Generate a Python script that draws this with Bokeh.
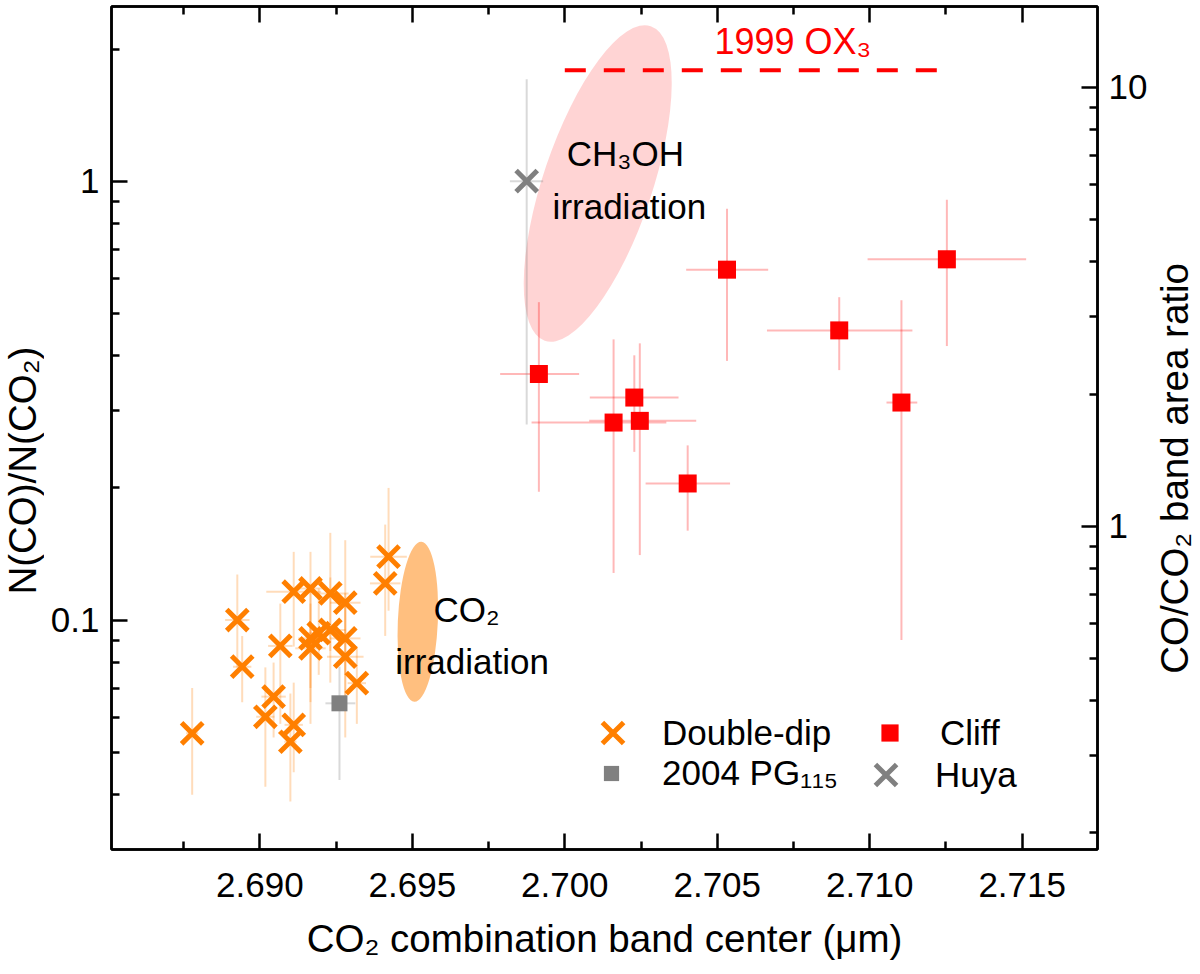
import math
import numpy as np
from bokeh.plotting import figure
from bokeh.layouts import row
from bokeh.models import (Range1d, LogScale, LogAxis, LinearAxis, FixedTicker,
                          PrintfTickFormatter, CustomJSTickFormatter, Legend,
                          LegendItem, Label)
from bokeh.embed import file_html
from bokeh.resources import INLINE

FONT = "Liberation Sans"

# ---------------- data ----------------
# Double-dip objects
dd_x = [2.68778, 2.68926, 2.68942, 2.69067, 2.69045, 2.69018, 2.69111, 2.69100,
        2.69111, 2.69166, 2.69231, 2.69280, 2.69166, 2.69193, 2.69231, 2.69280,
        2.69166, 2.69280, 2.69318, 2.69422, 2.69411]
dd_y = [0.0552, 0.1000, 0.0783, 0.0873, 0.0669, 0.0602, 0.0577, 0.0528,
        0.1160, 0.1180, 0.1150, 0.1095, 0.0908, 0.0933, 0.0949, 0.0908,
        0.0862, 0.0825, 0.0718, 0.1394, 0.1212]
dd_ylo = [0.040, 0.078, 0.065, 0.058, 0.054, 0.0417, 0.045, 0.0386,
          0.087, 0.070, 0.085, 0.075, 0.065, 0.075, 0.072, 0.062,
          0.058, 0.054, 0.058, 0.105, 0.092]
dd_yhi = [0.070, 0.127, 0.092, 0.109, 0.080, 0.078, 0.072, 0.068,
          0.143, 0.143, 0.158, 0.152, 0.118, 0.118, 0.125, 0.115,
          0.109, 0.109, 0.087, 0.200, 0.165]
dd_xerr = [0.0002, 0.0004, 0.0003, 0.0004, 0.0004, 0.0003, 0.0003, 0.0002,
           0.0009, 0.0005, 0.0006, 0.0005, 0.0004, 0.0004, 0.0005, 0.0005,
           0.0005, 0.0006, 0.0003, 0.0006, 0.0005]

# Cliff objects
cliff_x = [2.69915, 2.70228, 2.70160, 2.70246, 2.70403, 2.70532, 2.70900, 2.71104, 2.71253]
cliff_y = [0.3636, 0.3213, 0.2818, 0.2843, 0.2047, 0.6285, 0.4570, 0.3130, 0.6634]
cliff_ylo = [0.196, 0.2416, 0.128, 0.1406, 0.1598, 0.3894, 0.371, 0.090, 0.421]
cliff_yhi = [0.530, 0.401, 0.436, 0.427, 0.250, 0.865, 0.544, 0.535, 0.907]
cliff_xlo = [2.69788, 2.70082, 2.69891, 2.70080, 2.70265, 2.70398, 2.70663, 2.71055, 2.70993]
cliff_xhi = [2.70047, 2.70373, 2.70333, 2.70431, 2.70542, 2.70667, 2.71140, 2.71156, 2.71513]

# 2004 PG115
pg_x = [2.69261]
pg_y = [0.0646]
pg_ylo = [0.0432]
pg_yhi = [0.0783]
pg_xlo = [2.69215]
pg_xhi = [2.69313]

# Huya
huya_x = [2.69875]
huya_y = [1.0]
huya_ylo = [0.279]
huya_yhi = [1.706]
huya_xlo = [2.69820]
huya_xhi = [2.69929]

# 1999 OX3 (dashed level)
ox3_x = [2.7000, 2.7123]
ox3_y = [1.79, 1.79]

# irradiation regions (center x, center y, screen width, screen height, angle)
ch3oh_region = dict(x=[2.70108], y=[0.988], w=[109], h=[332], a=[-0.325])
co2_region = dict(x=[2.69518], y=[0.0991], w=[40], h=[160], a=[-0.044])

# axes
x_ticks = [2.690, 2.695, 2.700, 2.705, 2.710, 2.715]
x_minor = [2.6875, 2.6925, 2.6975, 2.7025, 2.7075, 2.7125, 2.7175]
y_ticks = [0.1, 1]
y_minor = [0.04, 0.05, 0.06, 0.07, 0.08, 0.09, 0.2, 0.3, 0.4, 0.5, 0.6, 0.7, 0.8, 0.9, 2]
r_ticks = [1, 10]
r_minor = [0.2, 0.3, 0.4, 0.5, 0.6, 0.7, 0.8, 0.9, 2, 3, 4, 5, 6, 7, 8, 9]
x_start, x_end = 2.685134, 2.71747
y_start, y_end = 0.03, 2.5
RATIO_PER_N = 6.11

x_title = "CO₂ combination band center (μm)"
y_title = "N(CO)/N(CO₂)"
r_title = "CO/CO₂ band area ratio"
y_title_mid = 0.219    # vertical centre of the left title (left-axis units)
r_title_mid = 0.2215   # vertical centre of the right title (left-axis units)

# annotation anchors (left edge, vertical middle)
labels = [
    ("CH₃OH", 2.70006, 1.156, "black", "35px"),
    ("irradiation", 2.69960, 0.876, "black", "35px"),
    ("CO₂", 2.69569, 0.1054, "black", "35px"),
    ("irradiation", 2.69444, 0.0806, "black", "35px"),
    ("1999 OX₃", 2.70491, 2.086, "#ff0000", "36px"),
]

ORANGE = "#ff7f00"
RED = "#ff0000"
GRAY = "#808080"

H = 972
TOP = 6
BOTTOM = 123

# ---------------- main figure ----------------
p = figure(width=1106, height=H,
           x_range=Range1d(x_start, x_end), y_range=Range1d(y_start, y_end),
           y_axis_type="log", output_backend="svg", toolbar_location=None,
           min_border_left=67, min_border_right=51,
           min_border_top=TOP, min_border_bottom=BOTTOM)
p.xgrid.visible = False
p.ygrid.visible = False
p.outline_line_color = "black"
p.outline_line_width = 2.5
p.background_fill_color = "white"
p.border_fill_color = "white"

p.extra_y_ranges = {"ratio": Range1d(y_start * RATIO_PER_N, y_end * RATIO_PER_N)}
p.extra_y_scales = {"ratio": LogScale()}

def style_axis(ax):
    ax.major_tick_in = 16
    ax.major_tick_out = 0
    ax.minor_tick_in = 8
    ax.minor_tick_out = 0
    ax.major_tick_line_width = 2.5
    ax.minor_tick_line_width = 2.5
    ax.axis_line_width = 2.5
    ax.major_label_text_font = FONT
    ax.major_label_text_font_size = "35px"
    ax.major_label_text_color = "black"
    ax.axis_label_text_font = FONT
    ax.axis_label_text_font_size = "38.5px"
    ax.axis_label_text_font_style = "normal"
    ax.axis_label_text_color = "black"

xax = p.xaxis[0]
xax.ticker = FixedTicker(ticks=x_ticks, minor_ticks=x_minor)
xax.formatter = PrintfTickFormatter(format="%.3f")
xax.axis_label = x_title
style_axis(xax)
xax.major_label_standoff = 23
xax.axis_label_standoff = 17

yax = p.yaxis[0]
yax.ticker = FixedTicker(ticks=y_ticks, minor_ticks=y_minor)
yax.formatter = CustomJSTickFormatter(code="return String(tick)")
style_axis(yax)
yax.major_label_standoff = 12

tax = LinearAxis(ticker=FixedTicker(ticks=x_ticks, minor_ticks=x_minor),
                 formatter=CustomJSTickFormatter(code="return ''"))
style_axis(tax)
tax.major_label_text_font_size = "0px"
tax.major_label_standoff = 0
p.add_layout(tax, "above")

rax = LogAxis(y_range_name="ratio",
              ticker=FixedTicker(ticks=r_ticks, minor_ticks=r_minor),
              formatter=CustomJSTickFormatter(code="return String(tick)"))
style_axis(rax)
rax.major_label_standoff = 11
p.add_layout(rax, "right")

# ---------------- regions ----------------
p.ellipse(x=ch3oh_region["x"], y=ch3oh_region["y"], width=ch3oh_region["w"],
          height=ch3oh_region["h"], angle=ch3oh_region["a"],
          width_units="screen", height_units="screen",
          fill_color=RED, fill_alpha=0.17, line_color=None)
p.ellipse(x=co2_region["x"], y=co2_region["y"], width=co2_region["w"],
          height=co2_region["h"], angle=co2_region["a"],
          width_units="screen", height_units="screen",
          fill_color=ORANGE, fill_alpha=0.5, line_color=None)

# ---------------- error bars ----------------
ddx = np.array(dd_x); dxe = np.array(dd_xerr); ddy = np.array(dd_y)
p.segment(x0=ddx, y0=dd_ylo, x1=ddx, y1=dd_yhi, line_color=ORANGE, line_alpha=0.27, line_width=2)
p.segment(x0=ddx - dxe, y0=ddy, x1=ddx + dxe, y1=ddy, line_color=ORANGE, line_alpha=0.27, line_width=2)

p.segment(x0=cliff_x, y0=cliff_ylo, x1=cliff_x, y1=cliff_yhi, line_color=RED, line_alpha=0.28, line_width=2)
p.segment(x0=cliff_xlo, y0=cliff_y, x1=cliff_xhi, y1=cliff_y, line_color=RED, line_alpha=0.28, line_width=2)

for xs, ys, ylo, yhi, xlo, xhi in [(pg_x, pg_y, pg_ylo, pg_yhi, pg_xlo, pg_xhi),
                                   (huya_x, huya_y, huya_ylo, huya_yhi, huya_xlo, huya_xhi)]:
    p.segment(x0=xs, y0=ylo, x1=xs, y1=yhi, line_color=GRAY, line_alpha=0.3, line_width=2)
    p.segment(x0=xlo, y0=ys, x1=xhi, y1=ys, line_color=GRAY, line_alpha=0.3, line_width=2)

# 1999 OX3 level
p.line(x=ox3_x, y=ox3_y, line_color=RED, line_width=4, line_dash="21 18")

# ---------------- markers ----------------
r_dd = p.scatter(x=dd_x, y=dd_y, marker="x", size=30, line_width=5, line_color=ORANGE)
r_cliff = p.scatter(x=cliff_x, y=cliff_y, marker="square", size=18, fill_color=RED, line_color=None)
r_pg = p.scatter(x=pg_x, y=pg_y, marker="square", size=16, fill_color=GRAY, line_color=None)
r_huya = p.scatter(x=huya_x, y=huya_y, marker="x", size=30, line_width=5, line_color=GRAY)

# ---------------- labels ----------------
for txt, lx, ly, col, fs in labels:
    p.add_layout(Label(x=lx, y=ly, text=txt, text_font=FONT, text_font_size=fs,
                       text_color=col, text_align="left", text_baseline="middle"))

# ---------------- legend ----------------
def add_legend(renderer, text, loc, glyph, standoff):
    lg = Legend(items=[LegendItem(label=text, renderers=[renderer])], location=loc,
                glyph_width=glyph, glyph_height=glyph, label_height=glyph,
                label_standoff=standoff, padding=0, margin=0, spacing=0,
                border_line_color=None, background_fill_alpha=0,
                label_text_font=FONT, label_text_font_size="35px",
                label_text_color="black")
    p.add_layout(lg)

add_legend(r_dd, "Double-dip", (464, 79), 75, 12)
add_legend(r_cliff, "Cliff", (757, 95), 43, 29)
add_legend(r_pg, "2004 PG₁₁₅", (481, 56), 38, 32)
add_legend(r_huya, "Huya", (737, 37), 75, 12)

# ---------------- vertical axis titles (side strips sharing the y scale) ----------------
def title_strip(width, text, y_mid):
    s = figure(width=width, height=H, x_range=Range1d(0, 1), y_range=Range1d(y_start, y_end),
               y_axis_type="log", output_backend="svg", toolbar_location=None,
               x_axis_location=None, y_axis_location=None,
               min_border_left=0, min_border_right=0,
               min_border_top=TOP, min_border_bottom=BOTTOM)
    s.outline_line_color = None
    s.xgrid.visible = False
    s.ygrid.visible = False
    s.background_fill_color = "white"
    s.border_fill_color = "white"
    s.add_layout(Label(x=0.5, y=y_mid, text=text, angle=math.pi / 2,
                       text_align="center", text_baseline="middle",
                       text_font=FONT, text_font_size="38.5px", text_color="black"))
    return s

left_strip = title_strip(44, y_title, y_title_mid)
right_strip = title_strip(48, r_title, r_title_mid)

layout = row(left_strip, p, right_strip, spacing=0)

open("out.html", "w").write(file_html(layout, INLINE))
